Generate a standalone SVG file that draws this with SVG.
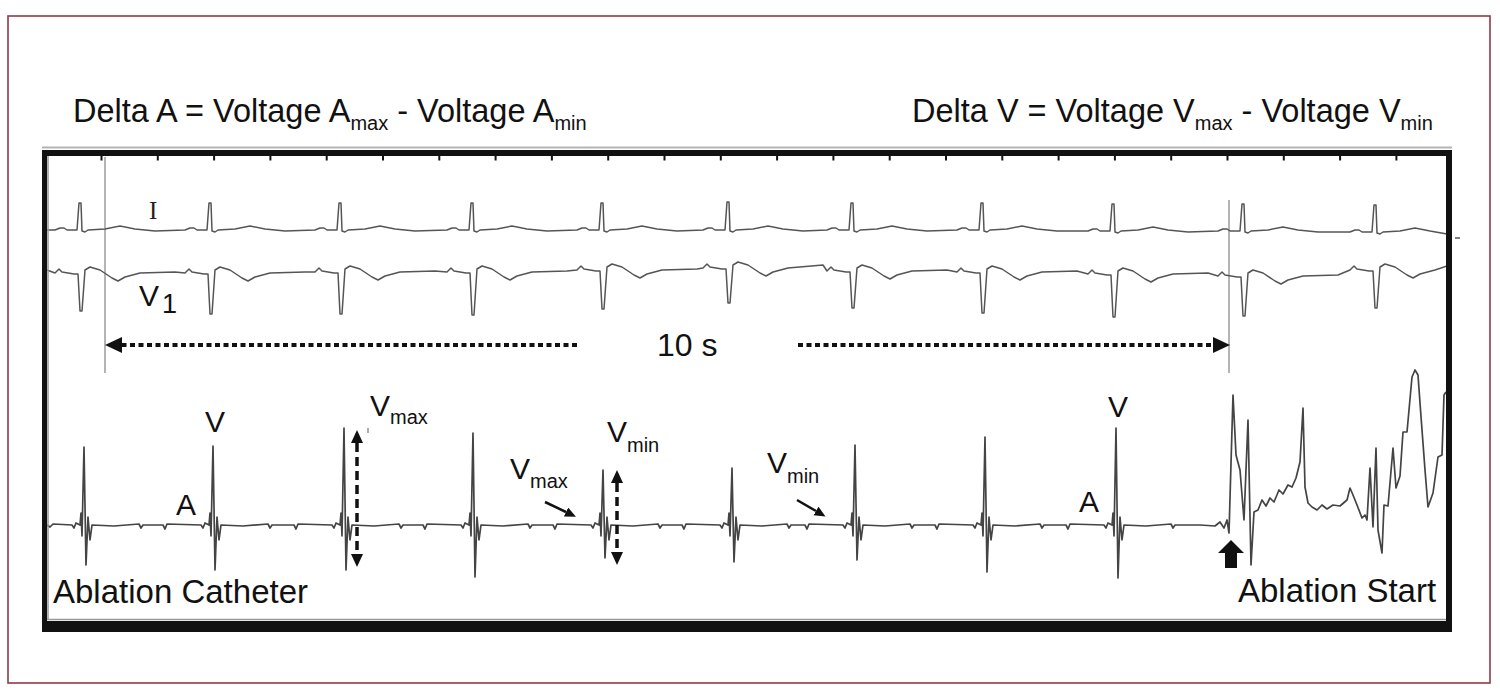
<svg xmlns="http://www.w3.org/2000/svg" width="1500" height="700" viewBox="0 0 1500 700">
<style>
.t{font-family:"Liberation Sans",Arial,Helvetica,sans-serif;fill:#111}
.ser{font-family:"Liberation Serif","Times New Roman",serif;fill:#222}
.trace{fill:none;stroke:#555;stroke-width:1.5;stroke-linejoin:round}
.abl{fill:none;stroke:#444;stroke-width:1.7;stroke-linejoin:round}
.dot{fill:none;stroke:#111;stroke-width:4;stroke-dasharray:5 3.5}
.dash{fill:none;stroke:#111;stroke-width:3.5;stroke-dasharray:9 5}
.thin{fill:none;stroke:#111;stroke-width:2.5}
.gl{stroke:#b4b4b4;stroke-width:2}
</style>
<defs>
<marker id="bigHead" markerUnits="userSpaceOnUse" markerWidth="18" markerHeight="17" refX="0" refY="8" orient="auto-start-reverse">
<path d="M0,0 L17,8 L0,16 z" fill="#111"/>
</marker>
<marker id="midHead" markerUnits="userSpaceOnUse" markerWidth="14" markerHeight="12" refX="0" refY="6" orient="auto-start-reverse">
<path d="M0,0 L13,6 L0,12 z" fill="#111"/>
</marker>
<marker id="smallHead" markerUnits="userSpaceOnUse" markerWidth="12" markerHeight="11" refX="0" refY="5" orient="auto">
<path d="M0,0 L11,5 L0,10 z" fill="#111"/>
</marker>
</defs>

<rect id="outer-border" x="8" y="16" width="1482" height="667" fill="#fff" stroke="#8e3a48" stroke-width="1.6"/>

<g id="header">
<text class="t" x="73" y="122" font-size="32.5">Delta A = Voltage A<tspan font-size="20" dy="8">max</tspan><tspan dy="-8"> - Voltage A</tspan><tspan font-size="20" dy="8">min</tspan></text>
<text class="t" x="912" y="122" font-size="32.5">Delta V = Voltage V<tspan font-size="20" dy="8">max</tspan><tspan dy="-8"> - Voltage V</tspan><tspan font-size="20" dy="8">min</tspan></text>
</g>

<g id="panel">
<rect x="42" y="150" width="1410" height="482" fill="#fff"/>
<line x1="42" y1="147.5" x2="1452" y2="147.5" class="gl"/>
</g>

<g id="markers">
<line x1="105" y1="157" x2="105" y2="373" class="gl"/>
<line x1="1229" y1="200" x2="1229" y2="373" class="gl"/>
</g>

<g id="traces">
<path id="lead-I" class="trace" d="M47,230 L55,230
l5,-2 l4,0 l3,2 l10,0 l2,-27 l2,0 l1,28 l3,1 l3,-2 l17,-1 l15,-3 l15,3 l20,2 L185,230
l5,-2 l4,0 l3,2 l10,0 l2,-27 l2,0 l1,28 l3,1 l3,-2 l17,-1 l15,-3 l15,3 l20,2 L315,230
l5,-2 l4,0 l3,2 l10,0 l2,-27 l2,0 l1,28 l3,1 l3,-2 l17,-1 l15,-3 l15,3 l20,2 L447,230
l5,-2 l4,0 l3,2 l10,0 l2,-27 l2,0 l1,28 l3,1 l3,-2 l17,-1 l15,-3 l15,3 l20,2 L577,230
l5,-2 l4,0 l3,2 l10,0 l2,-27 l2,0 l1,28 l3,1 l3,-2 l17,-1 l15,-3 l15,3 l20,2 L703,230
l5,-2 l4,0 l3,2 l10,0 l2,-28 l2,0 l1,29 l3,1 l3,-2 l17,-1 l15,-3 l15,3 l20,2 L827,230
l5,-2 l4,0 l3,2 l10,0 l2,-27 l2,0 l1,28 l3,1 l3,-2 l17,-1 l15,-3 l15,3 l20,2 L957,230
l5,-2 l4,0 l3,2 l10,0 l2,-27 l2,0 l1,28 l3,1 l3,-2 l17,-1 l15,-3 l15,3 l20,2 L1088,231
l5,-2 l4,0 l3,2 l10,0 l2,-27 l2,0 l1,28 l3,1 l3,-2 l17,-1 l15,-3 l15,3 l20,2 L1218,231
l5,-2 l4,0 l3,2 l10,0 l2,-27 l2,0 l1,28 l3,1 l3,-2 l17,-1 l15,-3 l15,3 l20,2 L1350,232
l5,-2 l4,0 l3,2 l10,0 l2,-27 l2,0 l1,28 l3,1 l3,-2 l17,-1 l15,-3 l15,3 L1447,234
M1455,238 L1460,238"/>

<path id="lead-V1" class="trace" d="M47,270 L55,273
l4,-4 l3,3 l12,2 l4,0 l2,37 l2,0 l3,-41 l5,-3 l10,3 l12,8 l6,3 l7,-4 l15,-4 l35,-1 L185,273
l4,-4 l3,3 l12,2 l4,0 l2,40 l2,0 l3,-44 l5,-3 l10,3 l12,8 l6,3 l7,-4 l15,-4 l35,-1 L315,272
l4,-4 l3,3 l12,2 l4,0 l2,41 l2,0 l3,-45 l5,-3 l10,3 l12,8 l6,3 l7,-4 l15,-4 l35,-1 L447,272
l4,-4 l3,3 l12,2 l4,0 l2,42 l2,0 l3,-46 l5,-3 l10,3 l12,8 l6,3 l7,-4 l15,-4 l35,-1 L577,270
l4,-4 l3,3 l12,2 l4,0 l2,38 l2,0 l3,-42 l5,-3 l10,3 l12,8 l6,3 l7,-4 l15,-4 l35,-1 L703,268
l4,-4 l3,3 l12,2 l4,0 l2,34 l2,0 l3,-38 l5,-3 l10,3 l12,8 l6,3 l7,-4 l15,-4 l35,-3 L827,271
l4,-4 l3,3 l12,2 l4,0 l2,36 l2,0 l3,-40 l5,-3 l10,3 l12,8 l6,3 l7,-4 l15,-4 l35,-1 L957,272
l4,-4 l3,3 l12,2 l4,0 l2,40 l2,0 l3,-44 l5,-3 l10,3 l12,8 l6,3 l7,-4 l15,-4 l35,-1 L1088,274
l4,-4 l3,3 l12,2 l4,0 l2,42 l2,0 l3,-46 l5,-3 l10,3 l12,8 l6,3 l7,-4 l15,-4 l35,-1 L1218,276
l4,-4 l3,3 l12,2 l4,0 l2,39 l2,0 l3,-43 l5,-3 l10,3 l12,8 l6,3 l7,-4 l15,-4 l35,-1 L1350,270
l4,-4 l3,3 l12,2 l4,0 l2,37 l2,0 l3,-41 l5,-3 l10,3 l12,8 l6,3 l7,-4 l15,-4 L1447,266"/>

<path id="ablation-catheter" class="abl" d="M47,525 L50,527 L53,524 L72,525 L74,528 L76,523 L80,525 L81,513 L82,536 L84,447 L86,565 L88,517 L90,540 L92,525 L114,526 L139,524 L141,528 L143,525
L163,525 L165,529 L167,524 L201,525 L203,528 L205,523 L209,525 L210,513 L211,536 L213,446 L215,570 L217,517 L219,540 L221,525 L243,526 L268,524 L270,528 L272,525
L294,525 L296,529 L298,524 L332,525 L334,528 L336,523 L340,525 L341,513 L342,536 L344,428 L346,570 L348,517 L350,540 L352,525 L374,526 L399,524 L401,528 L403,525
L423,525 L425,529 L427,524 L461,525 L463,528 L465,523 L469,525 L470,513 L471,536 L473,433 L475,577 L477,517 L479,540 L481,525 L503,526 L528,524 L530,528 L532,525
L553,525 L555,529 L557,524 L591,525 L593,528 L595,523 L599,525 L600,513 L601,536 L603,470 L605,558 L607,517 L609,540 L611,525 L633,526 L658,524 L660,528 L662,525
L682,525 L684,529 L686,524 L720,525 L722,528 L724,523 L728,525 L729,513 L730,536 L732,468 L734,562 L736,517 L738,540 L740,525 L762,526 L787,524 L789,528 L791,525
L805,525 L807,529 L809,524 L843,525 L845,528 L847,523 L851,525 L852,513 L853,536 L855,445 L857,560 L859,517 L861,540 L863,525 L885,526 L910,524 L912,528 L914,525
L935,525 L937,529 L939,524 L973,525 L975,528 L977,523 L981,525 L982,513 L983,536 L985,437 L987,572 L989,517 L991,540 L993,525 L1015,526 L1040,524 L1042,528 L1044,525
L1066,525 L1068,529 L1070,524 L1104,525 L1106,528 L1108,523 L1112,525 L1113,513 L1114,536 L1116,428 L1118,578 L1120,517 L1122,540 L1124,525 L1146,526 L1171,524 L1173,528 L1175,525
L1200,525 L1215,526 L1220,522 L1224,528 L1227,520 L1229,533 L1233,395 L1236,455 L1240,470 L1244,520 L1248,420 L1251,565 L1254,512 L1258,510 L1262,500 L1266,506 L1270,498 L1274,502 L1279,490 L1283,494 L1288,485 L1292,487 L1296,478 L1300,462 L1303,408 L1305,487 L1308,503 L1312,507 L1317,510 L1322,505 L1327,509 L1333,505 L1340,506 L1347,500 L1350,488 L1353,495 L1357,505 L1362,518 L1365,515 L1367,520 L1370,468 L1373,527 L1376,448 L1378,530 L1382,553 L1384,505 L1388,506 L1393,448 L1396,488 L1400,476 L1403,432 L1407,432 L1412,377 L1415,370 L1418,375 L1420,403 L1425,470 L1428,507 L1433,493 L1438,457 L1442,455 L1444,395 L1446,392"/>
</g>

<g id="connectors">
<line class="dot" x1="577" y1="345" x2="122" y2="345" marker-end="url(#bigHead)"/>
<line class="dot" x1="798" y1="345" x2="1213" y2="345" marker-end="url(#bigHead)"/>
<line class="dash" x1="357" y1="443" x2="357" y2="554" marker-start="url(#midHead)" marker-end="url(#midHead)"/>
<line class="dash" x1="617" y1="483" x2="617" y2="552" marker-start="url(#midHead)" marker-end="url(#midHead)"/>
<line class="thin" x1="545" y1="502" x2="566" y2="512" marker-end="url(#smallHead)"/>
<line class="thin" x1="797" y1="500" x2="816" y2="511" marker-end="url(#smallHead)"/>
<line x1="368" y1="428" x2="368" y2="433" stroke="#777" stroke-width="1.2"/>
<path id="ablation-start-arrow" d="M1218,553 L1231,540 L1244,553 L1237,553 L1237,568 L1225,568 L1225,553 z" fill="#111"/>
</g>

<g id="frame">
<rect x="42" y="150" width="1410" height="6" fill="#111"/>
<rect x="42" y="150" width="5" height="482" fill="#111"/>
<rect x="1446" y="150" width="6" height="482" fill="#111"/>
<rect x="42" y="621" width="1410" height="11" fill="#111"/>
<line x1="48" y1="156" x2="48" y2="620" stroke="#999" stroke-width="1.5"/>
<line x1="47" y1="619.5" x2="1446" y2="619.5" stroke="#999" stroke-width="1.5"/>
<line x1="100.5" y1="158" x2="1445" y2="158" stroke="#111" stroke-width="5" stroke-dasharray="2 54.3"/>
</g>

<g id="labels">
<text class="ser" x="149" y="219" font-size="25">I</text>
<text class="t" x="139" y="306" font-size="30">V<tspan font-size="27" dx="3" dy="7">1</tspan></text>
<rect x="635" y="322" width="100" height="42" fill="#fff"/>
<text class="t" x="657" y="356" font-size="32">10 s</text>
<text class="t" x="205" y="432" font-size="30">V</text>
<text class="t" x="176" y="515" font-size="30">A</text>
<text class="t" x="1108" y="417" font-size="30">V</text>
<text class="t" x="1079" y="512" font-size="30">A</text>
<text class="t" x="370" y="416" font-size="30">V<tspan font-size="20" dy="8">max</tspan></text>
<text class="t" x="510" y="479" font-size="30">V<tspan font-size="20" dy="9">max</tspan></text>
<text class="t" x="607" y="442" font-size="30">V<tspan font-size="20" dy="10">min</tspan></text>
<text class="t" x="767" y="473" font-size="30">V<tspan font-size="20" dy="10">min</tspan></text>
<text class="t" x="53" y="603" font-size="33">Ablation Catheter</text>
<text class="t" x="1238" y="602" font-size="33">Ablation Start</text>
</g>
</svg>
